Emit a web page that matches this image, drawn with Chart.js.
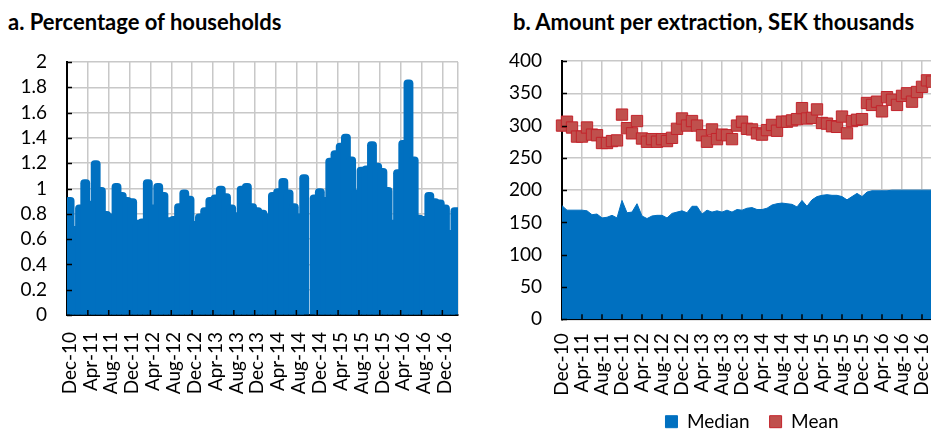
<!DOCTYPE html>
<html>
<head>
<meta charset="utf-8">
<title>Withdrawals by households</title>
<script src="https://cdn.jsdelivr.net/npm/chart.js@4.4.1/dist/chart.umd.min.js"></script>
<style>
    html, body { margin: 0; padding: 0; background: #fff; }
    body { position: relative; width: 931px; height: 431px; overflow: hidden; font-family: Lato, sans-serif; }
    .panel-title { position: absolute; top: 11px; font-weight: bold; font-size: 22px; line-height: 22px; color: #000; white-space: nowrap; }
    #titleA { left: 8px; }
    #titleB { left: 513px; }
    #chartA { position: absolute; left: 0; top: 0; }
    #chartB { position: absolute; left: 490px; top: 0; }
</style>
</head>
<body>
<div class="panel-title" id="titleA">a. Percentage of households</div>
<div class="panel-title" id="titleB">b. Amount per extraction, SEK thousands</div>
<canvas id="chartA" width="468" height="431"></canvas>
<canvas id="chartB" width="452" height="447"></canvas>

<script>
// Months shown on both panels
const MONTHS = [
    'Dec-10',
    'Jan-11', 'Feb-11', 'Mar-11', 'Apr-11', 'May-11', 'Jun-11', 'Jul-11', 'Aug-11', 'Sep-11', 'Oct-11', 'Nov-11', 'Dec-11',
    'Jan-12', 'Feb-12', 'Mar-12', 'Apr-12', 'May-12', 'Jun-12', 'Jul-12', 'Aug-12', 'Sep-12', 'Oct-12', 'Nov-12', 'Dec-12',
    'Jan-13', 'Feb-13', 'Mar-13', 'Apr-13', 'May-13', 'Jun-13', 'Jul-13', 'Aug-13', 'Sep-13', 'Oct-13', 'Nov-13', 'Dec-13',
    'Jan-14', 'Feb-14', 'Mar-14', 'Apr-14', 'May-14', 'Jun-14', 'Jul-14', 'Aug-14', 'Sep-14', 'Oct-14', 'Nov-14', 'Dec-14',
    'Jan-15', 'Feb-15', 'Mar-15', 'Apr-15', 'May-15', 'Jun-15', 'Jul-15', 'Aug-15', 'Sep-15', 'Oct-15', 'Nov-15', 'Dec-15',
    'Jan-16', 'Feb-16', 'Mar-16', 'Apr-16', 'May-16', 'Jun-16', 'Jul-16', 'Aug-16', 'Sep-16', 'Oct-16', 'Nov-16', 'Dec-16',
    'Jan-17', 'Feb-17'
];

// a. Percentage of households
const HOUSEHOLD_PCT = [
    0.93, 0.70, 0.87, 1.07, 0.90, 1.22, 1.01, 0.82, 0.80, 1.04,
    0.97, 0.93, 0.92, 0.75, 0.76, 1.07, 0.87, 1.04, 0.97, 0.77,
    0.78, 0.88, 0.99, 0.94, 0.74, 0.80, 0.85, 0.93, 0.95, 1.02,
    0.96, 0.87, 0.81, 1.02, 1.04, 0.88, 0.85, 0.83, 0.80, 0.97,
    1.00, 1.08, 0.99, 0.88, 0.80, 1.11, null, 0.95, 1.00, 0.93,
    1.24, 1.30, 1.36, 1.43, 1.25, 0.99, 1.17, 1.18, 1.37, 1.20,
    1.16, 1.01, 0.75, 1.15, 1.38, 1.86, 1.25, 0.79, 0.78, 0.97,
    0.92, 0.91, 0.87, 0.67, 0.85
];

// b. Amount per extraction, SEK thousands
const MEDIAN_AMOUNT = [
    176, 169, 169, 169, 169, 168, 162, 163, 157, 158,
    161, 157, 184, 165, 166, 179, 160, 156, 160, 161,
    161, 157, 164, 166, 168, 165, 175, 175, 163, 169,
    166, 168, 166, 169, 166, 170, 169, 172, 173, 170,
    170, 172, 177, 179, 180, 179, 178, 174, 184, 175,
    185, 190, 192, 193, 192, 192, 190, 185, 190, 195,
    190, 197, 199, 199, 199, 199, 200, 200, 200, 200,
    200, 200, 200, 200, 200
];
const MEAN_AMOUNT = [
    300, 306, 297, 283, 283, 297, 286, 285, 273, 273,
    276, 277, 317, 296, 288, 307, 280, 275, 279, 275,
    279, 276, 281, 295, 311, 300, 307, 300, 285, 275,
    294, 279, 286, 285, 279, 300, 306, 295, 294, 288,
    286, 293, 301, 292, 306, 306, 308, 310, 327, 311,
    312, 325, 304, 303, 299, 298, 314, 288, 307, 309,
    310, 335, 332, 337, 322, 344, 340, 332, 346, 350,
    337, 352, 360, 370, 368
];

const SERIES_NAMES = ['Median', 'Mean'];
const LABEL_EVERY = 4;

const BLUE = '#0070C0';
const RED = '#C0504D';
const RED_EDGE = '#C3232B';
const GRID = '#c8c8c8';
const FONT = { family: 'Lato, sans-serif', size: 19 };

/**
 * Small inward tick marks on both axes, like the original spreadsheet chart
 */
const innerTicks = {
    id: 'innerTicks',
    afterDatasetsDraw(chart, args, opts) {
        const { ctx, chartArea, scales } = chart;
        const len = opts.length || 5;
        ctx.save();
        ctx.strokeStyle = '#000';
        ctx.lineWidth = 1.5;
        ctx.beginPath();
        scales.y.ticks.forEach(t => {
            const py = Math.round(scales.y.getPixelForValue(t.value)) + 0.5;
            ctx.moveTo(chartArea.left, py);
            ctx.lineTo(chartArea.left + len, py);
        });
        const half = opts.between ? (scales.x.getPixelForValue(1) - scales.x.getPixelForValue(0)) / 2 : 0;
        for (let i = LABEL_EVERY; i < MONTHS.length; i += LABEL_EVERY) {
            const px = scales.x.getPixelForValue(i) - half;
            ctx.moveTo(px, chartArea.bottom);
            ctx.lineTo(px, chartArea.bottom - len);
        }
        ctx.stroke();
        ctx.restore();
    }
};

/**
 * Centre the bottom legend on the plot area instead of the canvas,
 * and nudge it up or down if asked
 */
const legendOnPlot = {
    id: 'legendOnPlot',
    afterLayout(chart, args, opts) {
        const lg = chart.legend;
        if (!lg) return;
        const w = lg.right - lg.left;
        const c = (chart.chartArea.left + chart.chartArea.right) / 2 + (opts.dx || 0);
        lg.left = c - w / 2;
        lg.right = c + w / 2;
        lg.top += opts.dy || 0;
        lg.bottom += opts.dy || 0;
    }
};

function monthAxis(between, height, padding) {
    return {
        offset: between,
        grid: {
            offset: between,
            drawTicks: false,
            lineWidth: 1.5,
            color: c => (c.type === 'scale' || c.index % LABEL_EVERY === 0) ? GRID : 'transparent'
        },
        border: { color: '#000', width: 2 },
        ticks: {
            autoSkip: false,
            minRotation: 90,
            maxRotation: 90,
            padding: padding,
            color: '#000',
            font: FONT,
            callback: function(v, i) {
                return i % LABEL_EVERY === 0 ? this.getLabelForValue(v) : '';
            }
        },
        // fixed height, and no extra side room for the rotated labels
        afterFit: s => {
            s.height = height;
            s.paddingLeft = 0;
            s.paddingRight = 0;
        }
    };
}

function valueAxis(max, step, width) {
    return {
        min: 0,
        max: max,
        grid: { drawTicks: false, color: GRID, lineWidth: 1.5 },
        border: { color: '#000', width: 2 },
        ticks: {
            stepSize: step,
            autoSkip: false,
            padding: 20,
            color: '#000',
            font: FONT,
            callback: v => String(Math.round(v * 10) / 10)
        },
        afterFit: s => { s.width = width; }
    };
}

function initCharts() {
    new Chart(document.getElementById('chartA'), {
        type: 'bar',
        data: {
            labels: MONTHS,
            datasets: [{
                data: HOUSEHOLD_PCT,
                backgroundColor: BLUE,
                barThickness: 9.2,
                borderRadius: 4,
                borderSkipped: 'start'
            }]
        },
        options: {
            responsive: false,
            animation: false,
            layout: { padding: { top: 62, right: 10, left: 0, bottom: 0 } },
            plugins: {
                legend: { display: false },
                tooltip: { enabled: false },
                innerTicks: { between: true }
            },
            scales: {
                x: monthAxis(true, 116, 17),
                y: valueAxis(2, 0.2, 67)
            }
        },
        plugins: [innerTicks]
    });

    new Chart(document.getElementById('chartB'), {
        type: 'line',
        data: {
            labels: MONTHS,
            datasets: [{
                label: SERIES_NAMES[0],
                data: MEDIAN_AMOUNT,
                fill: 'origin',
                backgroundColor: BLUE,
                borderColor: BLUE,
                borderWidth: 1,
                pointRadius: 0,
                tension: 0
            }, {
                label: SERIES_NAMES[1],
                data: MEAN_AMOUNT,
                showLine: false,
                pointStyle: 'rect',
                pointRadius: 8,
                pointBackgroundColor: RED,
                pointBorderColor: RED_EDGE,
                pointBorderWidth: 1,
                backgroundColor: RED,
                borderColor: RED_EDGE,
                borderWidth: 1
            }]
        },
        options: {
            responsive: false,
            animation: false,
            layout: { padding: { top: 61, right: 10, left: 0, bottom: 0 } },
            plugins: {
                legend: {
                    position: 'bottom',
                    labels: { boxWidth: 12, boxHeight: 12, padding: 20, color: '#000', font: FONT }
                },
                tooltip: { enabled: false },
                legendOnPlot: { dx: 5, dy: -5.8 },
                innerTicks: { between: false }
            },
            scales: {
                x: monthAxis(false, 78.7, 14),
                y: valueAxis(400, 50, 72)
            }
        },
        plugins: [innerTicks, legendOnPlot]
    });
}

document.addEventListener('DOMContentLoaded', initCharts);
</script>
</body>
</html>
